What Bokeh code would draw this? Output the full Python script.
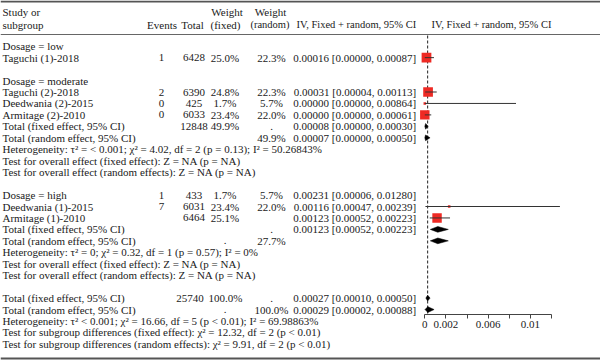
import math
from bokeh.plotting import figure
from bokeh.models import Range1d, LinearAxis, FixedTicker, ColumnDataSource
from bokeh.core.properties import value
from bokeh.embed import file_html
from bokeh.resources import INLINE

# ---------------- data ----------------
row_labels = [
    "Dosage = low", "Taguchi (1)-2018", "",
    "Dosage = moderate", "Taguchi (2)-2018", "Deedwania (2)-2015", "Armitage (2)-2010",
    "Total (fixed effect, 95% CI)", "Total (random effect, 95% CI)",
    "Heterogeneity: τ² = < 0.001; χ² = 4.02, df = 2 (p = 0.13); I² = 50.26843%",
    "Test for overall effect (fixed effect): Z = NA (p = NA)",
    "Test for overall effect (random effects): Z = NA (p = NA)", "",
    "Dosage = high", "Deedwania (1)-2015", "Armitage (1)-2010",
    "Total (fixed effect, 95% CI)", "Total (random effect, 95% CI)",
    "Heterogeneity: τ² = 0; χ² = 0.32, df = 1 (p = 0.57); I² = 0%",
    "Test for overall effect (fixed effect): Z = NA (p = NA)",
    "Test for overall effect (random effects): Z = NA (p = NA)", "",
    "Total (fixed effect, 95% CI)", "Total (random effect, 95% CI)",
    "Heterogeneity: τ² < 0.001; χ² = 16.66, df = 5 (p < 0.01); I² = 69.98863%",
    "Test for subgroup differences (fixed effect): χ² = 12.32, df = 2 (p < 0.01)",
    "Test for subgroup differences (random effects): χ² = 9.91, df = 2 (p < 0.01)",
]
events_col = ["", "1", "", "", "2", "0", "0", "", "", "", "", "", "",
              "1", "7", "", "", "", "", "", "", "", "", "", "", "", ""]
total_col = ["", "6428", "", "", "6390", "425", "6033", "12848", "", "", "", "", "",
             "433", "6031", "6464", "", "", "", "", "", "", "25740", "", "", "", ""]
wfixed_col = ["", "25.0%", "", "", "24.8%", "1.7%", "23.4%", "49.9%", "", "", "", "", "",
              "1.7%", "23.4%", "25.1%", "", ".", "", "", "", "", "100.0%", ".", "", "", ""]
wrandom_col = ["", "22.3%", "", "", "22.3%", "5.7%", "22.0%", ".", "49.9%", "", "", "", "",
               "5.7%", "22.0%", "", ".", "27.7%", "", "", "", "", ".", "100.0%", "", "", ""]
ci_col = ["", "0.00016 [0.00000, 0.00087]", "", "",
          "0.00031 [0.00004, 0.00113]", "0.00000 [0.00000, 0.00864]",
          "0.00000 [0.00000, 0.00061]", "0.00008 [0.00000, 0.00030]",
          "0.00007 [0.00000, 0.00050]", "", "", "", "",
          "0.00231 [0.00006, 0.01280]", "0.00116 [0.00047, 0.00239]",
          "0.00123 [0.00052, 0.00223]", "0.00123 [0.00052, 0.00223]", "", "", "", "", "",
          "0.00027 [0.00010, 0.00050]", "0.00029 [0.00002, 0.00088]", "", "", ""]

# plotted studies (row index, estimate, CI, fixed weight %)
study_rows = [1, 4, 5, 6, 14, 15]
study_est = [0.00016, 0.00031, 0.00000, 0.00000, 0.00231, 0.00116]
study_lo = [0.00000, 0.00004, 0.00000, 0.00000, 0.00006, 0.00047]
study_hi = [0.00087, 0.00113, 0.00864, 0.00061, 0.01280, 0.00239]
study_w = [25.0, 24.8, 1.7, 23.4, 1.7, 23.4]

# pooled diamonds
pool_rows = [7, 8, 16, 17, 22, 23]
pool_est = [0.00008, 0.00007, 0.00123, 0.00123, 0.00027, 0.00029]
pool_lo = [0.00000, 0.00000, 0.00052, 0.00052, 0.00010, 0.00002]
pool_hi = [0.00030, 0.00050, 0.00223, 0.00223, 0.00050, 0.00088]
overall_fixed = 0.00027

axis_ticks = [0, 0.002, 0.006, 0.01]
axis_tick_labels = ["0", "0.002", "0.006", "0.01"]
axis_minor = [0.004, 0.008, 0.012]

# ---------------- layout helpers ----------------
W, H = 600, 360
SY = H / 360
FONT = "Liberation Serif"
FS = "11px"
FS_HDR = "10.5px"
TXT = "#1a1a1a"

X0_PX, PX_PER_UNIT = 424.3, 10557.0
def xr(px):
    return (px - X0_PX) / PX_PER_UNIT

ROW0_PX, ROW_PX = 45.7, 11.45
def yr(py):
    return (py - ROW0_PX) / ROW_PX

AXIS_Y_REF = 313.5

p = figure(width=W, height=H, output_backend="svg", toolbar_location=None,
           x_range=Range1d(xr(0), xr(600)),
           y_range=Range1d(yr(360), yr(0)),
           x_axis_type=None, y_axis_type=None,
           min_border_left=0, min_border_right=0, min_border_top=0,
           min_border_bottom=0)
p.outline_line_color = None
p.background_fill_color = "white"
p.border_fill_color = "white"

ax = LinearAxis(ticker=FixedTicker(ticks=axis_ticks, minor_ticks=axis_minor),
                bounds=(0, axis_minor[-1]), fixed_location=yr(AXIS_Y_REF))
ax.major_label_overrides = {t: l for t, l in zip(axis_ticks, axis_tick_labels)}
ax.axis_line_color = "#444444"
ax.major_tick_line_color = "#444444"
ax.minor_tick_line_color = "#444444"
ax.major_tick_out = 4
ax.major_tick_in = 0
ax.minor_tick_out = 4
ax.minor_tick_in = 0
ax.major_label_standoff = 3
ax.major_label_text_font = FONT
ax.major_label_text_font_size = FS
ax.major_label_text_color = TXT
p.add_layout(ax, "below")

# horizontal rules (top, under header, bottom)
rule_y = [yr(1), yr(34), yr(358)]
p.segment(x0=[xr(0)] * 3, y0=rule_y, x1=[xr(600)] * 3, y1=rule_y,
          line_color=["#555555", "#666666", "#555555"], line_width=[2, 1.2, 2])

# dashed pooled line
p.segment(x0=[overall_fixed], y0=[yr(35)], x1=[overall_fixed], y1=[yr(AXIS_Y_REF)],
          line_color="#222222", line_width=1, line_dash="3 2")

# CI lines and squares
sq = ColumnDataSource(dict(y=study_rows, est=study_est, lo=study_lo, hi=study_hi,
                           size=[1.95 * math.sqrt(w) * SY for w in study_w]))
p.scatter(x="est", y="y", size="size", marker="square", source=sq,
          fill_color="#ee2a24", line_color=None)
p.segment(x0="lo", y0="y", x1="hi", y1="y", source=sq, line_color="#333333", line_width=1)

# diamonds
p.patches(xs=[[lo, e, hi, e] for lo, e, hi in zip(pool_lo, pool_est, pool_hi)],
          ys=[[r, r - 0.25, r, r + 0.25] for r in pool_rows],
          fill_color="black", line_color="black", line_width=0.5)

# ---------------- text ----------------
def put(col, px, align, shifts=None):
    xs, ys, ts = [], [], []
    for i, t in enumerate(col):
        if not t:
            continue
        dx = (shifts or {}).get(i, 0)
        xs.append(xr(px + dx)); ys.append(i); ts.append(t)
    p.text(x=xs, y=ys, text=ts, text_align=align, text_baseline="middle",
           text_font=value(FONT), text_font_size=FS, text_color=TXT)

put(row_labels, 2, "left")
put(events_col, 161, "center")
put(total_col, 193.5, "center", {22: -4})
put(wfixed_col, 224.5, "center", {22: 0.5})
put(wrandom_col, 271, "center")
put(ci_col, 415.7, "right")

# header
def hdr(xs_px, y, texts, align, fs=FS):
    p.text(x=[xr(v) for v in xs_px], y=[y] * len(texts), text=texts, text_align=align,
           text_baseline="middle", text_font=value(FONT), text_font_size=fs, text_color=TXT)

hdr_y1, hdr_y2 = yr(11.7), yr(24)
hdr([2], hdr_y1, ["Study or"], "left")
hdr([2], hdr_y2, ["subgroup"], "left")
hdr([226.5, 270], hdr_y1, ["Weight", "Weight"], "center")
hdr([161.5, 192, 225], hdr_y2, ["Events", "Total", "(fixed)"], "center")
hdr([269.5, 491], hdr_y2, ["(random)", "IV, Fixed + random, 95% CI"], "center", FS_HDR)
hdr([415.7], hdr_y2, ["IV, Fixed + random, 95% CI"], "right", FS_HDR)

open("out.html", "w").write(file_html(p, INLINE))
